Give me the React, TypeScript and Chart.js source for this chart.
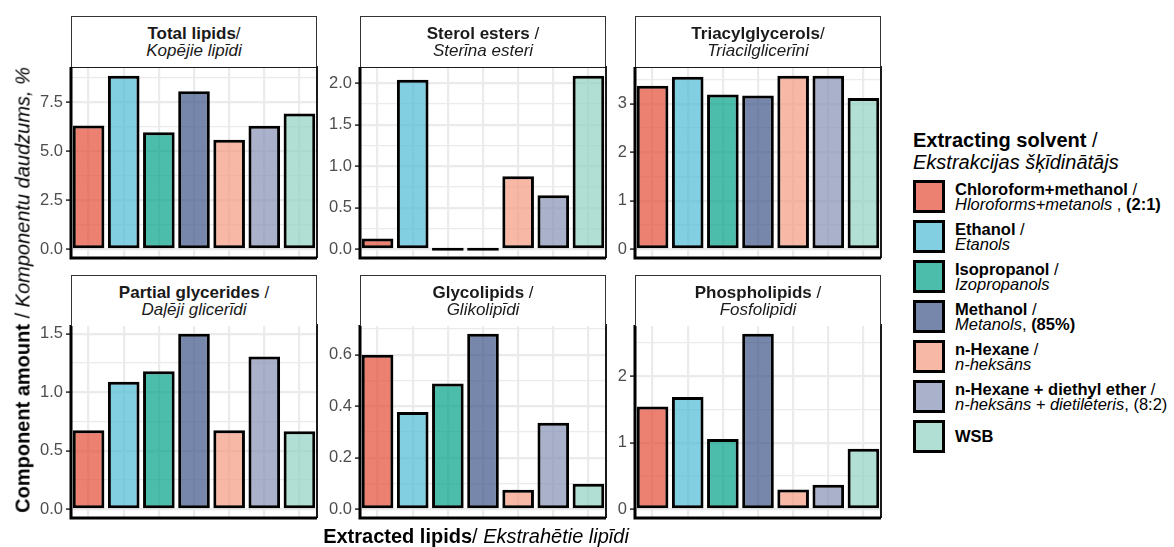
import { useEffect, useRef } from "react";
import { Chart, registerables } from "chart.js";

Chart.register(...registerables);

// Extracting solvents (shared x categories and legend entries)
const solvents = [
  "Chloroform+methanol (2:1)",
  "Ethanol",
  "Isopropanol",
  "Methanol (85%)",
  "n-Hexane",
  "n-Hexane + diethyl ether (8:2)",
  "WSB",
];
const solventColors = ["#E64B35", "#4DBBD5", "#00A087", "#3C5488", "#F39B7F", "#8491B4", "#91D1C2"];

// Component amount, % — one array per lipid class, in solvent order
const totalLipids = [6.32, 8.87, 5.98, 8.08, 5.6, 6.31, 6.94];
const sterolEsters = [0.13, 2.04, 0, 0, 0.88, 0.65, 2.09];
const triacylglycerols = [3.37, 3.56, 3.19, 3.17, 3.58, 3.58, 3.12];
const partialGlycerides = [0.675, 1.09, 1.18, 1.5, 0.675, 1.305, 0.667];
const glycolipids = [0.6, 0.378, 0.489, 0.682, 0.076, 0.336, 0.099];
const phospholipids = [1.545, 1.69, 1.055, 2.64, 0.295, 0.37, 0.91];

// Y tick labels per panel
const totalTicks = ["0.0", "2.5", "5.0", "7.5"];
const sterolTicks = ["0.0", "0.5", "1.0", "1.5", "2.0"];
const triacylTicks = ["0", "1", "2", "3"];
const partialTicks = ["0.0", "0.5", "1.0", "1.5"];
const glycoTicks = ["0.0", "0.2", "0.4", "0.6"];
const phosphoTicks = ["0", "1", "2"];

// Facet strip labels
const panelNames = ["Total lipids", "Sterol esters", "Triacylglycerols", "Partial glycerides", "Glycolipids", "Phospholipids"];
const panelSeparators = ["/", " /", "/", " /", " /", " /"];
const panelNamesLv = ["Kopējie lipīdi", "Sterīna esteri", "Triacilglicerīni", "Daļēji glicerīdi", "Glikolipīdi", "Fosfolipīdi"];

const FONT = "'Liberation Sans', Arial, Helvetica, sans-serif";

// layout
const COL_LEFT = [71, 360, 635];
const PLOT_W = 246;
const ROW_PLOT_TOP = [67, 325];
const ROW_PLOT_H = [191, 193];
const STRIP_TOP = [16, 275];
const STRIP_H = 51;
const Y_AXIS_W = 44;
const PAD = 12;

function withAlpha(hex: string, a: number) {
  const n = parseInt(hex.slice(1), 16);
  return `rgba(${(n >> 16) & 255}, ${(n >> 8) & 255}, ${n & 255}, ${a})`;
}

const frameBorder = {
  id: "frameBorder",
  afterDatasetsDraw(chart: any) {
    const { ctx, chartArea: a } = chart;
    ctx.save();
    ctx.strokeStyle = "#1a1a1a";
    ctx.lineWidth = 2;
    ctx.beginPath();
    ctx.moveTo(a.left, a.top);
    ctx.lineTo(a.right, a.top);
    ctx.lineTo(a.right, a.bottom);
    ctx.stroke();
    ctx.strokeStyle = "#000";
    ctx.lineWidth = 3;
    ctx.beginPath();
    ctx.moveTo(a.left, a.top);
    ctx.lineTo(a.left, a.bottom);
    ctx.lineTo(a.right, a.bottom);
    ctx.stroke();
    ctx.restore();
  },
};

function Panel(props: { values: number[]; tickLabels: string[]; left: number; top: number; height: number }) {
  const { values, tickLabels, left, top, height } = props;
  const ref = useRef<HTMLCanvasElement>(null);
  const cw = Y_AXIS_W + PLOT_W + 3;
  const ch = height + 2 * PAD;

  useEffect(() => {
    if (!ref.current) return;
    const dataMax = Math.max(...values);
    const majors = tickLabels.map((t) => parseFloat(t));
    const step = majors[1] - majors[0];
    const yMin = -0.05 * dataMax;
    const yMax = 1.05 * dataMax;
    const minors: number[] = [];
    for (let i = 0; i < majors.length; i++) {
      const m = majors[i] + step / 2;
      if (m < yMax) minors.push(m);
    }
    const allTicks = [...majors, ...minors].sort((a, b) => a - b);
    const isMajor = (v: number) => majors.some((m) => Math.abs(m - v) < 1e-9);
    const labelOf = (v: number) => {
      const i = majors.findIndex((m) => Math.abs(m - v) < 1e-9);
      return i >= 0 ? tickLabels[i] : "";
    };

    const chart = new Chart(ref.current, {
      type: "bar",
      data: {
        labels: solvents,
        datasets: [
          {
            data: values,
            backgroundColor: solventColors.map((c) => withAlpha(c, 0.7)),
            borderColor: "#000",
            borderWidth: 3,
            borderSkipped: false,
            barPercentage: 0.9,
            categoryPercentage: 1,
            minBarLength: 3,
          },
        ],
      },
      options: {
        animation: false,
        responsive: false,
        devicePixelRatio: 1,
        layout: { padding: { top: PAD, right: 3, bottom: PAD, left: 0 } },
        plugins: { legend: { display: false }, tooltip: { enabled: false } },
        scales: {
          x: {
            type: "category",
            offset: true,
            ticks: { display: false },
            grid: { offset: false, color: "#EBEBEB", lineWidth: 2.2, drawTicks: false },
            border: { display: false },
            afterFit: (s: any) => {
              s.height = 0;
              s.paddingLeft = 0;
              s.paddingRight = 0;
            },
          },
          y: {
            type: "linear",
            min: yMin,
            max: yMax,
            afterBuildTicks: (s: any) => {
              s.ticks = allTicks.map((v) => ({ value: v }));
            },
            afterFit: (s: any) => {
              s.width = Y_AXIS_W;
              s.paddingTop = 0;
              s.paddingBottom = 0;
            },
            ticks: {
              autoSkip: false,
              padding: 3,
              color: "#4D4D4D",
              font: { family: FONT, size: 16.5 },
              callback: (v: any) => labelOf(Number(v)),
            },
            grid: {
              color: "#EBEBEB",
              lineWidth: (c: any) => (c.tick && isMajor(c.tick.value) ? 2.2 : 1.3),
              tickColor: (c: any) => (c.tick && isMajor(c.tick.value) ? "#333333" : "rgba(0,0,0,0)"),
              tickWidth: 1.6,
              tickLength: 5,
            },
            border: { display: false },
          },
        },
      },
      plugins: [frameBorder],
    });
    return () => chart.destroy();
  }, [values, tickLabels]);

  return (
    <canvas
      ref={ref}
      width={cw}
      height={ch}
      style={{ position: "absolute", left: left - Y_AXIS_W, top: top - PAD, width: cw, height: ch }}
    />
  );
}

function Strip(props: { left: number; top: number; name: string; sep: string; lv: string }) {
  return (
    <div
      style={{
        position: "absolute",
        left: props.left,
        top: props.top,
        width: PLOT_W,
        height: STRIP_H,
        boxSizing: "border-box",
        border: "1.5px solid #333",
        borderBottom: "none",
        background: "#fff",
        display: "flex",
        flexDirection: "column",
        alignItems: "center",
        justifyContent: "center",
        fontFamily: FONT,
        fontSize: 17,
        lineHeight: "17px",
        color: "#1a1a1a",
      }}
    >
      <div>
        <b>{props.name}</b>
        {props.sep}
      </div>
      <div style={{ fontStyle: "italic" }}>{props.lv}</div>
    </div>
  );
}

const panelValues = [totalLipids, sterolEsters, triacylglycerols, partialGlycerides, glycolipids, phospholipids];
const panelTicks = [totalTicks, sterolTicks, triacylTicks, partialTicks, glycoTicks, phosphoTicks];

// Legend label lines (bold English name, italic Latvian name with suffix)
const legendEn = ["Chloroform+methanol", "Ethanol", "Isopropanol", "Methanol", "n-Hexane", "n-Hexane + diethyl ether", "WSB"];
const legendLv = ["Hloroforms+metanols", "Etanols", "Izopropanols", "Metanols", "n-heksāns", "n-heksāns + dietilēteris", ""];
const legendSuffix = [" , ", "", "", ", ", "", ", ", ""];
const legendRatio = ["(2:1)", "", "", "(85%)", "", "(8:2)", ""];
const legendRatioBold = [true, false, false, true, false, false, false];

function Legend() {
  return (
    <div style={{ position: "absolute", left: 913, top: 0, fontFamily: FONT, color: "#000" }}>
      <div style={{ position: "absolute", top: 129, left: 0, fontSize: 20, lineHeight: "22px", whiteSpace: "nowrap" }}>
        <div>
          <b>Extracting solvent</b> /
        </div>
        <div style={{ fontStyle: "italic" }}>Ekstrakcijas šķīdinātājs</div>
      </div>
      {solvents.map((s, i) => (
        <div key={s} style={{ position: "absolute", top: 180 + 40 * i, left: 0, height: 33 }}>
          <div
            style={{
              position: "absolute",
              left: 0,
              top: 0,
              width: 32,
              height: 33,
              boxSizing: "border-box",
              border: "3px solid #000",
              background: withAlpha(solventColors[i], 0.7),
            }}
          />
          <div
            style={{
              position: "absolute",
              left: 42,
              top: 0,
              height: 33,
              display: "flex",
              flexDirection: "column",
              justifyContent: "center",
              fontSize: 16.5,
              lineHeight: "15px",
              whiteSpace: "nowrap",
            }}
          >
            <div>
              <b>{legendEn[i]}</b>
              {legendLv[i] ? " /" : ""}
            </div>
            {legendLv[i] ? (
              <div>
                <i>{legendLv[i]}</i>
                {legendSuffix[i]}
                {legendRatioBold[i] ? <b>{legendRatio[i]}</b> : legendRatio[i]}
              </div>
            ) : null}
          </div>
        </div>
      ))}
    </div>
  );
}

export default function App() {
  return (
    <div style={{ position: "absolute", left: 0, top: 0, width: 1174, height: 547, background: "#fff", overflow: "hidden" }}>
      {panelValues.map((vals, i) => {
        const r = Math.floor(i / 3);
        const c = i % 3;
        return (
          <Panel
            key={panelNames[i]}
            values={vals}
            tickLabels={panelTicks[i]}
            left={COL_LEFT[c]}
            top={ROW_PLOT_TOP[r]}
            height={ROW_PLOT_H[r]}
          />
        );
      })}
      {panelNames.map((n, i) => (
        <Strip
          key={n}
          left={COL_LEFT[i % 3]}
          top={STRIP_TOP[Math.floor(i / 3)]}
          name={n}
          sep={panelSeparators[i]}
          lv={panelNamesLv[i]}
        />
      ))}
      <div
        style={{
          position: "absolute",
          left: 23,
          top: 290,
          transform: "translate(-50%, -50%) rotate(-90deg)",
          whiteSpace: "nowrap",
          fontFamily: FONT,
          fontSize: 20,
          color: "#000",
        }}
      >
        <b>Component amount</b> / <i>Komponentu daudzums, %</i>
      </div>
      <div
        style={{
          position: "absolute",
          left: 476,
          top: 536,
          transform: "translate(-50%, -50%)",
          whiteSpace: "nowrap",
          fontFamily: FONT,
          fontSize: 20,
          color: "#000",
        }}
      >
        <b>Extracted lipids</b>/ <i>Ekstrahētie lipīdi</i>
      </div>
      <Legend />
    </div>
  );
}
